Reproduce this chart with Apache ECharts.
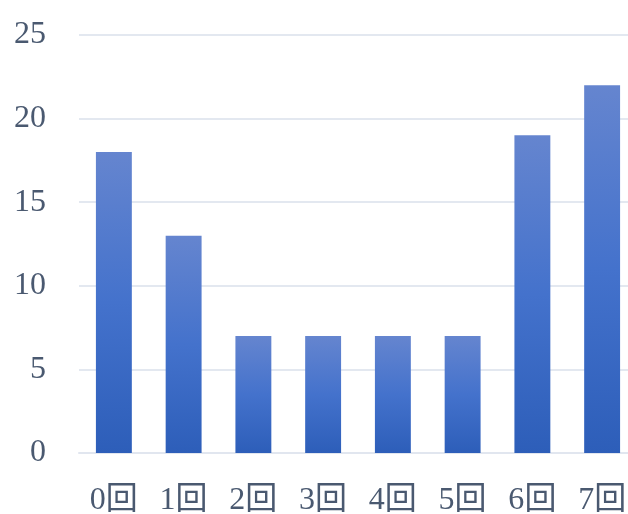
<!DOCTYPE html>
<html><head><meta charset="utf-8">
<script src="https://cdn.jsdelivr.net/npm/echarts@6/dist/echarts.min.js"></script>
<style>html,body{margin:0;padding:0;background:#fff}#c{width:628px;height:514px}</style>
</head><body><div id="c"></div>
<script>
const categories = ['0回','1回','2回','3回','4回','5回','6回','7回'];
const values = [18, 13, 7, 7, 7, 7, 19, 22];
const yMin = 0, yMax = 25, yInterval = 5;

const font = '"Liberation Serif", "DejaVu Serif", "Noto Sans CJK JP", serif';
const chart = echarts.init(document.getElementById('c'));
chart.setOption({
  animation: false,
  grid: { left: 79, width: 558, top: 35, bottom: 61, containLabel: false, outerBoundsMode: 'none' },
  xAxis: {
    type: 'category', data: categories,
    axisLine: { lineStyle: { color: '#e1e6ef', width: 2 } },
    axisTick: { show: false },
    axisLabel: { color: '#4a5970', fontSize: 32, fontFamily: font, margin: 32 }
  },
  yAxis: {
    type: 'value', min: yMin, max: yMax, interval: yInterval,
    axisLine: { show: false }, axisTick: { show: false },
    splitLine: { lineStyle: { color: '#e3e8f0', width: 2 } },
    axisLabel: { color: '#4a5970', fontSize: 32, fontFamily: font, margin: 33, padding: [0, 0, 6, 0] }
  },
  series: [{
    type: 'bar', data: values, barWidth: '51.5%',
    itemStyle: {
      color: new echarts.graphic.LinearGradient(0, 0, 0, 1, [
        { offset: 0, color: '#6585cf' },
        { offset: 0.5, color: '#4472cc' },
        { offset: 1, color: '#2d5eb9' }
      ])
    }
  }]
});
</script></body></html>
